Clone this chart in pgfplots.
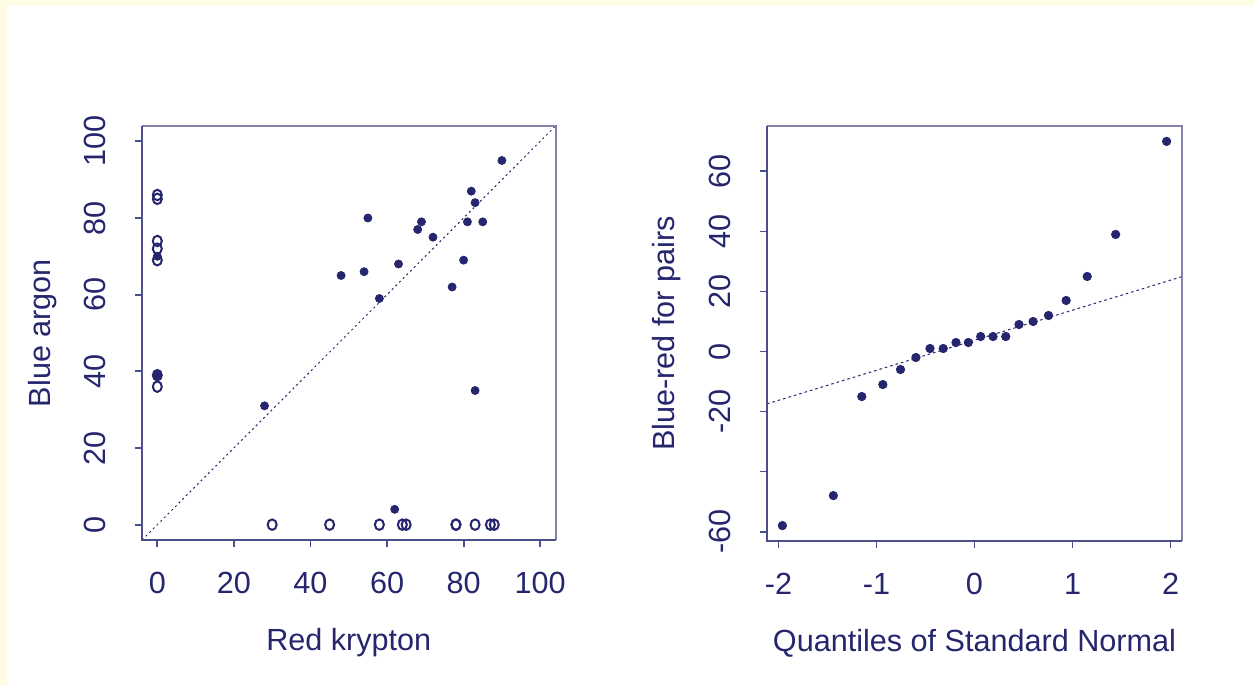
\documentclass[border=0pt]{standalone}
\usepackage{pgfplots}
\pgfplotsset{compat=1.18}
\usepackage{fontspec}
\setmainfont{Liberation Sans}
\definecolor{navy}{RGB}{38,38,110}
\definecolor{axdark}{RGB}{78,78,140}
\definecolor{axlight}{RGB}{130,130,172}
\definecolor{cream}{RGB}{255,252,230}

\pgfplotsset{
  rplot/.style={
    scale only axis,
    axis line style={draw=none},
    tick align=outside,
    tick pos=left,
    major tick length=3.5pt,
    every tick/.style={axdark, line width=0.9pt},
    ticklabel style={font=\fontsize{15.3}{18}\selectfont, text=navy},
    label style={font=\fontsize{15.3}{18}\selectfont, text=navy},
    xticklabel style={anchor=center, yshift=-18pt},
    yticklabel style={anchor=center, xshift=-20pt, rotate=90},
    /pgf/number format/assume math mode=true,
    after end axis/.code={
      \draw[axlight, line width=1pt] (rel axis cs:0,1) -- (rel axis cs:1,1) -- (rel axis cs:1,0);
      \draw[axdark, line width=1pt] (rel axis cs:0,1) -- (rel axis cs:0,0) -- (rel axis cs:1,0);
    },
  },
  filled/.style={only marks, mark=*, mark size=2pt, color=navy},
  hollow/.style={only marks, mark=o, mark size=2.5pt, color=navy,
    mark options={line width=1pt, xscale=0.9, yscale=1.05}},
}

\begin{document}
\begin{tikzpicture}
\fill[cream] (0,0) rectangle (627pt,343pt);
\fill[white] (3.5pt,0) rectangle (627pt,340pt);
\useasboundingbox (0,0) rectangle (627pt,343pt);

% left: blue argon against red krypton
\begin{axis}[rplot,
  at={(71pt,73pt)}, anchor=south west,
  width=206.75pt, height=207pt,
  xmin=-4, xmax=104, ymin=-4, ymax=104,
  xtick={0,20,40,60,80,100}, xticklabels={0,20,40,60,80,100},
  ytick={0,20,40,60,80,100}, yticklabels={0,20,40,60,80,100},
  xlabel={Red krypton}, ylabel={Blue argon},
  xlabel style={at={(axis description cs:0.5,-0.249)}, anchor=center},
  ylabel style={at={(axis description cs:-0.24,0.5)}, anchor=center, rotate=0},
]
\addplot[navy, line width=0.5pt, dash pattern=on 1pt off 1.6pt] coordinates {(-4,-4) (104,104)};
\addplot[hollow] coordinates {
(0,86) (0,85) (0,74) (0,72) (0,69) (0,39) (0,36)
(30,0) (45,0) (58,0) (64,0) (65,0) (78,0) (78,0) (83,0) (87,0) (88,0)};
\addplot[filled] coordinates {
(90,95) (82,87) (83,84) (55,80) (69,79) (81,79) (85,79) (68,77) (72,75) (63,68)
(80,69) (48,65) (54,66) (58,59) (77,62) (28,31) (83,35) (62,4) (0,70) (0,39)};
\end{axis}

% right: normal QQ plot of the differences
\begin{axis}[rplot,
  at={(383.5pt,72.5pt)}, anchor=south west,
  width=207.5pt, height=207.5pt,
  xmin=-2.117, xmax=2.117, ymin=-63.12, ymax=75.12,
  xtick={-2,-1,0,1,2}, xticklabels={-2,-1,0,1,2},
  ytick={-60,-40,-20,0,20,40,60}, yticklabels={-60,,-20,0,20,40,60},
  xlabel={Quantiles of Standard Normal}, ylabel={Blue-red for pairs},
  xlabel style={at={(axis description cs:0.5,-0.246)}, anchor=center},
  ylabel style={at={(axis description cs:-0.243,0.5)}, anchor=center, rotate=0},
]
\addplot[navy, line width=0.5pt, dash pattern=on 1.3pt off 1.5pt] coordinates {(-2.117,-17.44) (2.117,24.94)};
\addplot[filled, mark size=2.1pt] coordinates {
(-1.960,-58) (-1.440,-48) (-1.150,-15) (-0.935,-11) (-0.755,-6)
(-0.598,-2) (-0.454,1) (-0.319,1) (-0.189,3) (-0.063,3)
(0.063,5) (0.189,5) (0.319,5) (0.454,9) (0.598,10)
(0.755,12) (0.935,17) (1.150,25) (1.440,39) (1.960,70)};
\end{axis}
\end{tikzpicture}
\end{document}
